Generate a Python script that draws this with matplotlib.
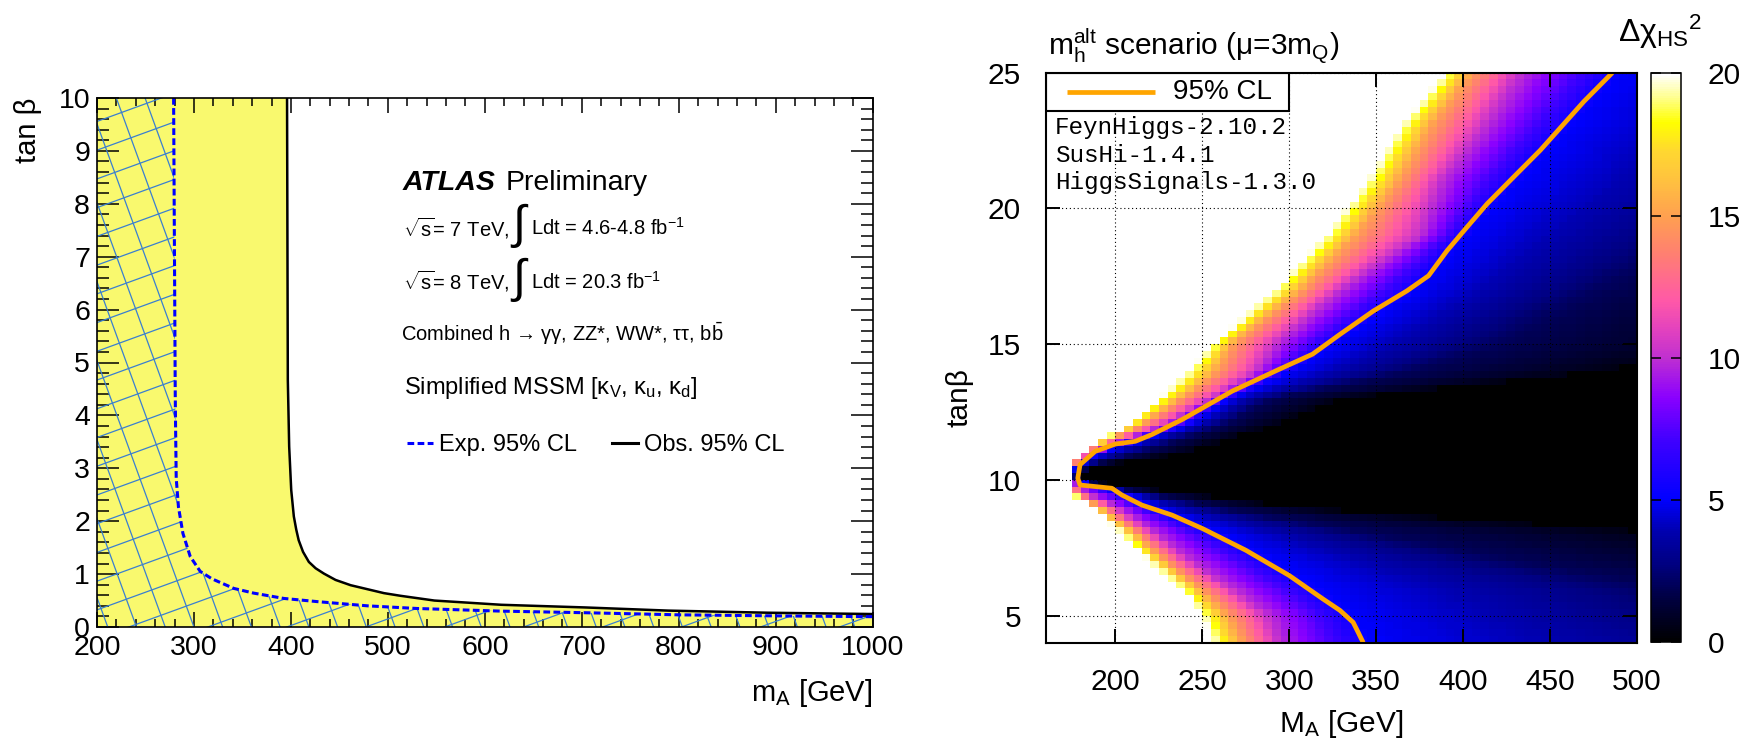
import numpy as np
import matplotlib
matplotlib.use("Agg")
import matplotlib.pyplot as plt
from matplotlib.colors import LinearSegmentedColormap
from matplotlib.patches import Polygon, Rectangle
from matplotlib.collections import LineCollection
from matplotlib.lines import Line2D

plt.rcParams["font.family"] = ["Liberation Sans", "DejaVu Sans"]
plt.rcParams["mathtext.fontset"] = "custom"
plt.rcParams["mathtext.rm"] = "Liberation Sans"
plt.rcParams["mathtext.it"] = "Liberation Sans:italic"
plt.rcParams["mathtext.bf"] = "Liberation Sans:bold"

# ---------------- left panel: ATLAS 95% CL limits ----------------
exp_mA = [279, 280.7, 281, 281.7, 284, 288.6, 296.2, 306.5, 318.6, 341, 361.7,
          392.7, 427, 479, 530, 617, 703, 800, 903, 1000]
exp_tanb = [10, 4.4, 3.85, 2.81, 2.27, 1.77, 1.33, 1.05, 0.91, 0.73, 0.64,
            0.54, 0.48, 0.40, 0.35, 0.30, 0.27, 0.23, 0.21, 0.195]
obs_mA = [396, 396.8, 398.2, 400.3, 403, 405.5, 408, 412.5, 418.5, 425.5, 434, 446,
          461.6, 496, 513, 548, 617, 703, 789, 892, 1000]
obs_tanb = [10, 4.67, 3.41, 2.59, 2.09, 1.84, 1.64, 1.42, 1.23, 1.11, 1.01, 0.89,
            0.79, 0.64, 0.59, 0.50, 0.42, 0.37, 0.31, 0.27, 0.245]

# ---------------- right panel: delta chi2 map ----------------
# M_A where delta chi2 drops to each level, per tan(beta) row
tb_rows = [4, 5, 6, 7, 8, 9, 9.5, 10, 10.5, 11, 12, 13, 14, 15, 17, 19, 21, 23, 25]
chi_levels = [20, 15, 10, 5, 2, 0.5]
mA_at_20 = [256, 250, 238, 219, 204, 186, 174, 174, 175, 180, 206, 225, 242, 256, 292, 321, 345, 364, 390]
mA_at_15 = [273, 265, 248, 228, 212, 191, 175.5, 174.3, 175.5, 182, 214, 238, 258, 267, 307, 338, 363, 381, 405]
mA_at_10 = [294, 288, 267, 243, 223, 201, 183, 174.6, 176, 186, 227, 256, 282, 292, 329, 375, 387, 412, 433]
mA_at_5 = [347, 338, 318, 292, 262, 222, 206, 175, 178, 191, 241, 266, 302, 327, 374, 403, 433, 462, 492]
mA_at_2 = [620, 560, 520, 430, 350, 255, 218, 176, 183, 214, 262, 290, 370, 420, 480, 540, 600, 650, 720]
mA_at_05 = [760, 700, 700, 620, 520, 300, 240, 177, 190, 240, 290, 330, 480, 560, 600, 700, 760, 800, 860]

cl_mA = [486, 469.6, 444.6, 429.2, 413.9, 402.3, 390.8, 380.2, 367.7, 348.4, 329.2,
         313.4, 294.1, 267.2, 238.3, 221, 211.4, 200, 188.3, 179.6, 178.3, 179.6,
         197.9, 203.7, 215.2, 232.6, 249.9, 274.9, 299.9, 319.2, 329.2, 336.8, 339.7, 342.6]
cl_tanb = [25.0, 23.94, 22.15, 21.16, 20.17, 19.31, 18.44, 17.52, 16.96, 16.22, 15.36,
           14.63, 14.07, 13.27, 12.22, 11.67, 11.42, 11.32, 11.05, 10.56, 10.06, 9.81,
           9.69, 9.44, 9.07, 8.70, 8.21, 7.41, 6.48, 5.62, 5.19, 4.75, 4.38, 4.0]

W, H = 1758, 749
fig = plt.figure(figsize=(W / 100, H / 100), dpi=100)

# ======================= left panel =======================
ax = fig.add_axes([97 / W, 1 - 627 / H, 775.7 / W, 529 / H])
ax.set_xlim(200, 1000)
ax.set_ylim(0, 10)

obs_poly = [(200, 0), (200, 10)] + list(zip(obs_mA, obs_tanb)) + [(1000, 0)]
ax.add_patch(Polygon(obs_poly, closed=True, facecolor="#f9f96e", edgecolor="none", zorder=1))

exp_poly = Polygon([(200, 0), (200, 10)] + list(zip(exp_mA, exp_tanb)) + [(1000, 0)],
                   closed=True, facecolor="none", edgecolor="none", zorder=1)
ax.add_patch(exp_poly)

# rotated cross-hatch clipped to the expected region
bb = ax.get_position()
w_px, h_px = bb.width * W, bb.height * H
diag = np.hypot(w_px, h_px)
segs = []
for ang, off in [(20, 10.0), (-70, 4.0)]:
    a = np.deg2rad(ang)
    d = np.array([np.cos(a), np.sin(a)])
    n = np.array([-np.sin(a), np.cos(a)])
    for c in np.arange(-diag + off, diag, 27.0):
        p0 = c * n - diag * d
        p1 = c * n + diag * d
        segs.append([(p0[0] / w_px, p0[1] / h_px), (p1[0] / w_px, p1[1] / h_px)])
lc = LineCollection(segs, colors="#3a7fd0", linewidths=0.9, transform=ax.transAxes, zorder=2)
ax.add_collection(lc, autolim=False)
lc.set_clip_path(exp_poly)

ax.plot(obs_mA, obs_tanb, color="black", lw=1.8, zorder=3)
ax.plot(exp_mA, exp_tanb, color="#0000ff", lw=2.2, linestyle=(0, (2.2, 1.1)), zorder=4)

ax.set_xticks(np.arange(200, 1001, 100))
ax.set_xticks(np.arange(200, 1001, 20), minor=True)
ax.set_yticks(np.arange(0, 11, 1))
ax.set_yticks(np.arange(0, 10.01, 0.2), minor=True)
ax.tick_params(axis="both", which="both", direction="in", top=True, right=True, width=1.1)
ax.tick_params(axis="x", which="major", length=11, labelsize=20.5, pad=5.5)
ax.tick_params(axis="x", which="minor", length=5.5)
ax.tick_params(axis="y", which="major", length=16, labelsize=20.5, pad=5)
ax.tick_params(axis="y", which="minor", length=8.5)
for s in ax.spines.values():
    s.set_linewidth(1.2)
    s.set_zorder(6)

ax.text(-0.089, 1.0, "tan β", rotation=90, ha="center", va="top", fontsize=21,
        transform=ax.transAxes)
ax.text(1.0, -0.094, "m$_{\\rm A}$ [GeV]", ha="right", va="top", fontsize=21,
        transform=ax.transAxes)

ax.text(0.3945, 0.839, "ATLAS", fontsize=20.5, fontweight="bold", fontstyle="italic",
        va="center", transform=ax.transAxes)
ax.text(0.527, 0.839, "Preliminary", fontsize=20.5, va="center", transform=ax.transAxes)
for fy, lumi, sqs in [(0.754, "4.6-4.8", "7"), (0.653, "20.3", "8")]:
    ax.text(0.395, fy, "$\\sqrt{\\rm s}$= %s TeV," % sqs, fontsize=14.5, va="center",
            transform=ax.transAxes)
    ax.text(0.5435, fy + 0.004, "∫", fontsize=34, family="Liberation Sans", ha="center",
            va="center", transform=ax.transAxes)
    ax.text(0.559, fy, "Ldt = %s fb$^{-1}$" % lumi, fontsize=14.5, va="center",
            transform=ax.transAxes)
ax.text(0.392, 0.555, "Combined h → γγ, ZZ*, WW*, ττ, b$\\bar{\\rm b}$", fontsize=14.5,
        va="center", transform=ax.transAxes)
ax.text(0.3958, 0.452, "Simplified MSSM [κ$_{\\rm V}$, κ$_{\\rm u}$, κ$_{\\rm d}$]",
        fontsize=17, va="center", transform=ax.transAxes)
handles = [Line2D([], [], color="#0000ff", lw=2.2, linestyle=(0, (2.2, 1.1))),
           Line2D([], [], color="black", lw=2.2)]
ax.legend(handles, ["Exp. 95% CL", "Obs. 95% CL"], ncol=2, frameon=False, fontsize=17,
          handlelength=1.1, handletextpad=0.25, columnspacing=1.5, loc="center left",
          bbox_to_anchor=(0.3996, 0.344), borderaxespad=0, borderpad=0)

# ======================= right panel =======================
ax2 = fig.add_axes([1046 / W, 1 - 642.7 / H, 590.7 / W, 570 / H])

cmap = LinearSegmentedColormap.from_list("hs", [
    (0.0, "#000000"), (0.075, "#000040"), (0.135, "#000080"), (0.195, "#0000b0"),
    (0.25, "#0000ff"), (0.355, "#4000ff"), (0.43, "#8a00ff"), (0.5, "#c030d0"),
    (0.545, "#e040c0"), (0.6, "#ff58a8"), (0.685, "#ff8070"), (0.75, "#ffa050"),
    (0.81, "#ffc040"), (0.865, "#ffd830"), (0.915, "#ffff00"), (0.96, "#ffff90"),
    (1.0, "#ffffff")])
cmap.set_over("white")

crossings = np.array([mA_at_20, mA_at_15, mA_at_10, mA_at_5, mA_at_2, mA_at_05])
m_edges = np.arange(160, 505, 5)
t_edges = np.arange(4, 25.01, 0.25)
m_mid = 0.5 * (m_edges[1:] + m_edges[:-1])
t_mid = 0.5 * (t_edges[1:] + t_edges[:-1])
chi = np.empty((len(t_mid), len(m_mid)))
for i, t in enumerate(t_mid):
    xp = [np.interp(t, tb_rows, c) for c in crossings]
    chi[i] = np.interp(m_mid, xp, chi_levels, left=25, right=0)

mesh = ax2.pcolormesh(m_edges, t_edges, chi, cmap=cmap, vmin=0, vmax=20,
                      shading="flat", zorder=1)
ax2.plot(cl_mA, cl_tanb, color="#ffa500", lw=3.4, zorder=4, solid_capstyle="butt")

ax2.set_xlim(160, 500)
ax2.set_ylim(4, 25)
ax2.set_xticks(np.arange(200, 501, 50))
ax2.set_yticks(np.arange(5, 26, 5))
ax2.grid(True, color="black", linestyle=(0, (1, 2.5)), linewidth=0.8)
ax2.set_axisbelow(False)
ax2.tick_params(direction="in", top=True, right=True, length=10, width=1.4,
                labelsize=21.5, pad=18)
for s in ax2.spines.values():
    s.set_linewidth(1.5)
    s.set_zorder(7)

ax2.add_patch(Rectangle((0, 0.933), 0.411, 0.067, transform=ax2.transAxes,
                        facecolor="white", edgecolor="black", lw=1.5, zorder=5))
ax2.plot([0.0356, 0.1845], [0.9667, 0.9667], transform=ax2.transAxes, color="#ffa500",
         lw=3.4, zorder=6, solid_capstyle="butt")
ax2.text(0.215, 0.9667, "95% CL", fontsize=20, va="center", transform=ax2.transAxes, zorder=6)
for fy, txt in [(0.903, "FeynHiggs-2.10.2"), (0.855, "SusHi-1.4.1"), (0.807, "HiggsSignals-1.3.0")]:
    ax2.text(0.0152, fy, txt, fontsize=17.5, family="Liberation Mono", va="center",
             transform=ax2.transAxes, zorder=6)

ax2.text(0.003, 1.031, "m$_{\\rm h}^{\\rm alt}$ scenario (μ=3m$_{\\rm Q}$)", fontsize=21.5,
         ha="left", va="baseline", transform=ax2.transAxes)
ax2.text(-0.146, 0.43, "tanβ", rotation=90, ha="center", va="center", fontsize=21.5,
         transform=ax2.transAxes)
ax2.text(0.5, -0.115, "M$_{\\rm A}$ [GeV]", ha="center", va="top", fontsize=21.5,
         transform=ax2.transAxes)

cax = fig.add_axes([1650.7 / W, 1 - 642.3 / H, 30.3 / W, 569 / H])
cb = fig.colorbar(mesh, cax=cax, ticks=[0, 5, 10, 15, 20])
cb.outline.set_linewidth(1.1)
cax.tick_params(axis="y", direction="in", left=True, right=True, length=7, width=1.1,
                labelsize=21.5, pad=19)
fig.text(1618 / W, 1 - 42 / H, "Δχ$_{\\rm HS}{}^{2}$", fontsize=23, ha="left",
         va="baseline")

fig.savefig("out.png", dpi=100)
